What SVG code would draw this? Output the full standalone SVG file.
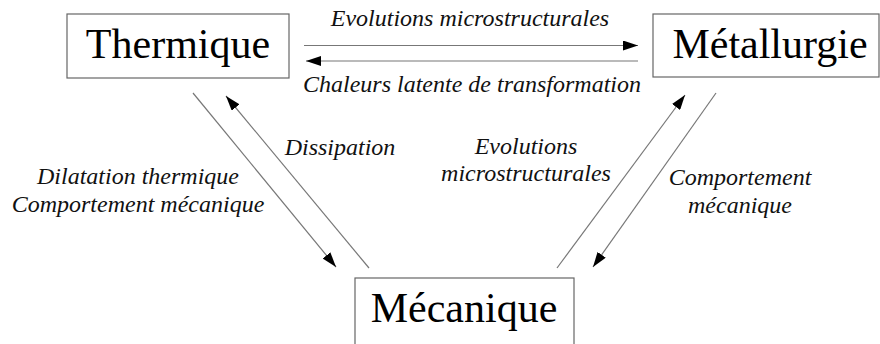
<svg xmlns="http://www.w3.org/2000/svg" width="880" height="344" viewBox="0 0 880 344">
<style>
.box{fill:#fff;stroke:#666;stroke-width:1.2}
.node{font-size:42px;fill:#000;text-anchor:middle}
.lbl{font-style:italic;font-size:24px;fill:#111;text-anchor:middle}
.conn{stroke:#777;stroke-width:1.2;fill:none;marker-end:url(#ah)}
</style>
<defs>
<marker id="ah" viewBox="0 0 15 10" refX="15" refY="5" markerWidth="15" markerHeight="10" markerUnits="userSpaceOnUse" orient="auto">
<polygon points="0,0 15,5 0,10" fill="#000"/>
</marker>
</defs>
<rect width="880" height="344" fill="#fff"/>
<g font-family="Liberation Serif, Times New Roman, DejaVu Serif, serif">
<g id="thermique">
<rect class="box" x="67" y="14" width="222" height="64"/>
<text class="node" x="178" y="58">Thermique</text>
</g>
<g id="metallurgie">
<rect class="box" x="653" y="14" width="226" height="63"/>
<text class="node" x="770" y="58">Métallurgie</text>
</g>
<g id="mecanique">
<rect class="box" x="355" y="278" width="219" height="80"/>
<text class="node" x="464" y="322">Mécanique</text>
</g>
<g id="connectors">
<line class="conn" x1="304" y1="45.5" x2="638" y2="45.5"/>
<line class="conn" x1="638" y1="61" x2="306" y2="61"/>
<line class="conn" x1="193" y1="93" x2="336" y2="267"/>
<line class="conn" x1="369" y1="268" x2="226" y2="96"/>
<line class="conn" x1="557" y1="268" x2="685" y2="95"/>
<line class="conn" x1="716" y1="93" x2="593" y2="267"/>
</g>
<g id="labels">
<text class="lbl" x="470" y="26">Evolutions microstructurales</text>
<text class="lbl" x="472" y="92">Chaleurs latente de transformation</text>
<text class="lbl" x="340" y="155">Dissipation</text>
<text class="lbl" x="138" y="184">Dilatation thermique</text>
<text class="lbl" x="138" y="212">Comportement mécanique</text>
<text class="lbl" x="526" y="154">Evolutions</text>
<text class="lbl" x="526" y="181">microstructurales</text>
<text class="lbl" x="740" y="185">Comportement</text>
<text class="lbl" x="740" y="213">mécanique</text>
</g>
</g>
</svg>
